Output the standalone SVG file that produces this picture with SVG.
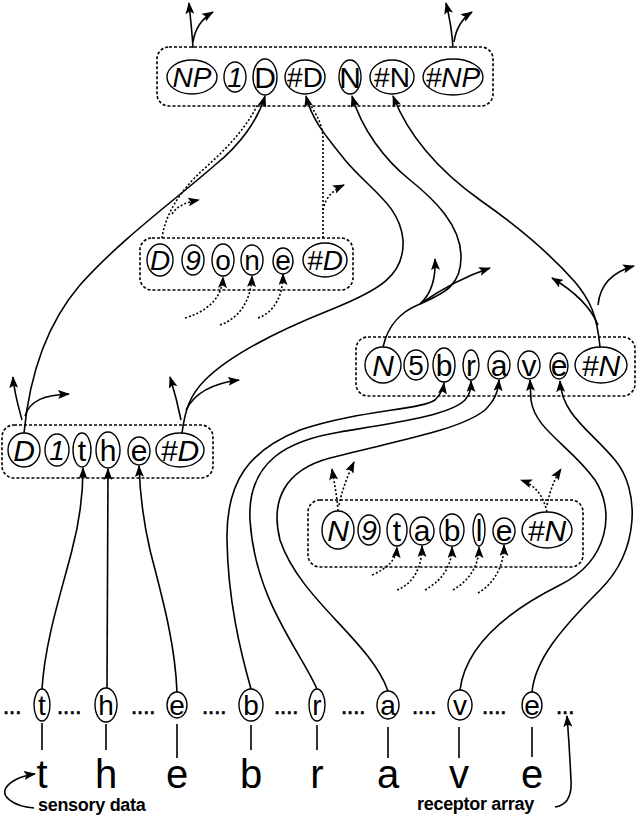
<svg xmlns="http://www.w3.org/2000/svg" width="640" height="817" viewBox="0 0 640 817">
<defs>
<marker id="ah" markerUnits="userSpaceOnUse" markerWidth="12" markerHeight="9" refX="11" refY="4.5" orient="auto">
<path d="M0,0 L12,4.5 L0,9 L2.5,4.5 z" fill="#000"/>
</marker>
<style>
.bx{fill:none;stroke:#000;stroke-width:1.6;stroke-dasharray:3 2}
.el{fill:#fff;stroke:#000;stroke-width:1.4}
.t{font-family:"Liberation Sans",Arial,sans-serif;font-size:30px;text-anchor:middle;fill:#000}
.s{font-size:28px}
.i{font-style:italic}
.c{fill:none;stroke:#000;stroke-width:1.6}
.ca{fill:none;stroke:#000;stroke-width:1.6;marker-end:url(#ah)}
.d{fill:none;stroke:#000;stroke-width:1.6;stroke-dasharray:2 2}
.da{fill:none;stroke:#000;stroke-width:1.6;stroke-dasharray:2 2;marker-end:url(#ah)}
.dots{font-family:"Liberation Sans",Arial,sans-serif;font-size:22px;fill:#000;stroke:#000;stroke-width:0.7}
.big{font-family:"Liberation Sans",Arial,sans-serif;font-size:40px;text-anchor:middle;fill:#000}
.lab{font-family:"Liberation Sans",Arial,sans-serif;font-size:18px;font-weight:bold;fill:#000;letter-spacing:-0.3px}
</style>
</defs>
<rect width="640" height="817" fill="#fff"/>

<g id="connectors">
<path class="ca" d="M193,48 C192,30 190,15 189,3"/>
<path class="ca" d="M193,42 C195,28 203,18 213,12"/>
<path class="ca" d="M453,48 C452,30 449,15 446,3"/>
<path class="ca" d="M454,42 C456,28 463,18 472,12"/>
<path class="ca" d="M24,433 C30,370 50,320 80,285 C120,240 175,200 215,165 C240,145 258,120 265,96"/>
<path class="ca" d="M22,420 C18,405 14,392 13,377"/>
<path class="ca" d="M25,416 C30,400 45,395 69,394"/>
<path class="ca" d="M182,433 C185,410 190,395 205,380 C230,355 280,330 330,310 C380,290 405,275 403,240 C400,205 370,190 345,160 C325,135 312,120 306,96"/>
<path class="ca" d="M181,420 C178,405 174,390 170,377"/>
<path class="ca" d="M186,410 C195,392 215,383 239,380"/>
<path class="ca" d="M383,347 C388,325 400,312 420,304 C445,293 462,285 461,255 C460,225 435,200 410,180 C385,160 362,130 352,96"/>
<path class="ca" d="M420,304 C430,295 436,280 435,259"/>
<path class="ca" d="M420,304 C440,290 460,278 490,268"/>
<path class="ca" d="M600,347 C597,315 590,300 575,282 C560,265 530,235 480,200 C445,175 410,140 393,96"/>
<path class="ca" d="M598,325 C590,305 572,290 552,278"/>
<path class="ca" d="M598,305 C600,285 612,272 634,266"/>
<path class="d" d="M162,238 C165,215 180,190 205,168 C225,150 245,130 258,104"/>
<path class="da" d="M172,214 C178,205 188,202 199,200"/>
<path class="d" d="M323,238 L323,140 C323,120 312,110 307,98"/>
<path class="da" d="M323,210 C325,198 333,190 344,185"/>
<path class="da" d="M185,318 C205,312 222,300 223,277"/>
<path class="da" d="M220,325 C240,318 251,300 252,276"/>
<path class="da" d="M258,318 C275,312 283,295 283,274"/>
<path class="da" d="M338,511 C337,495 334,482 332,469"/>
<path class="da" d="M339,505 C342,490 348,475 354,462"/>
<path class="da" d="M547,512 C543,495 535,485 521,480"/>
<path class="da" d="M547,505 C550,490 555,478 561,469"/>
<path class="da" d="M372,575 C388,568 396,560 397,547"/>
<path class="da" d="M397,590 C415,583 422,565 422,546"/>
<path class="da" d="M425,590 C443,580 452,565 452,547"/>
<path class="da" d="M453,590 C470,580 479,565 479,547"/>
<path class="da" d="M478,593 C495,583 504,565 504,545"/>
<path class="ca" d="M42,689 C45,640 62,590 72,550 C80,520 83,495 83,468"/>
<path class="ca" d="M107,688 L108,469"/>
<path class="ca" d="M177,692 C175,640 160,590 150,550 C143,520 140,495 139,466"/>
<path class="ca" d="M251,689 C240,650 228,600 227,540 C226,480 250,450 300,430 C360,410 420,410 435,400 C440,395 443,390 444,383"/>
<path class="ca" d="M317,689 C300,650 255,600 250,520 C247,460 290,440 340,432 C400,422 450,415 465,400 C470,394 471,390 471,381"/>
<path class="ca" d="M388,691 C370,640 300,600 280,540 C270,500 285,470 330,458 C400,440 460,430 485,410 C495,400 498,392 499,380"/>
<path class="ca" d="M460,690 C465,650 500,615 560,585 C610,560 615,510 595,480 C570,445 535,430 531,400 L530,380"/>
<path class="ca" d="M532,692 C535,660 560,630 600,590 C640,550 640,490 615,460 C590,430 562,415 560,381"/>
<path class="c" d="M42,723 V750 M106,724 V750 M177,724 V758 M251,725 V750 M317,725 V750 M388,727 V758 M459,727 V758 M532,727 V757"/>
<path class="ca" d="M34,808 C10,806 3,795 5,790 C8,782 20,776 35,774"/>
<path class="ca" d="M555,807 C568,805 572,795 571,780 C570,760 569,740 567,716"/>
</g>

<g id="np-box">
<rect class="bx" x="157" y="47" width="336" height="59" rx="12"/>
<ellipse class="el" cx="192" cy="77" rx="25" ry="17"/><text class="t s i" x="192" y="87">NP</text>
<ellipse class="el" cx="235" cy="77" rx="11" ry="15"/><text class="t s i" x="235" y="87">1</text>
<ellipse class="el" cx="265" cy="77" rx="12" ry="18"/><text class="t" x="265" y="88">D</text>
<ellipse class="el" cx="305" cy="77" rx="20" ry="17"/><text class="t s" x="305" y="87">#D</text>
<ellipse class="el" cx="350" cy="77" rx="11" ry="17"/><text class="t" x="350" y="88">N</text>
<ellipse class="el" cx="392" cy="77" rx="22" ry="17"/><text class="t s" x="392" y="87">#N</text>
<ellipse class="el" cx="453" cy="77" rx="30" ry="18"/><text class="t s i" x="453" y="87">#NP</text>
</g>

<g id="done-box">
<rect class="bx" x="140" y="238" width="213" height="52" rx="12"/>
<ellipse class="el" cx="160" cy="260" rx="13" ry="16"/><text class="t s i" x="160" y="270">D</text>
<ellipse class="el" cx="193" cy="260" rx="11" ry="15"/><text class="t s i" x="193" y="270">9</text>
<ellipse class="el" cx="223" cy="260" rx="11" ry="16"/><text class="t s" x="223" y="270">o</text>
<ellipse class="el" cx="252" cy="260" rx="11" ry="15"/><text class="t s" x="252" y="270">n</text>
<ellipse class="el" cx="283" cy="261" rx="10" ry="13"/><text class="t s" x="283" y="270">e</text>
<ellipse class="el" cx="325" cy="260" rx="22" ry="17"/><text class="t s i" x="325" y="270">#D</text>
</g>

<g id="brave-box">
<rect class="bx" x="356" y="337" width="279" height="59" rx="12"/>
<ellipse class="el" cx="383" cy="365" rx="18" ry="18"/><text class="t i" x="383" y="376">N</text>
<ellipse class="el" cx="416" cy="365" rx="12" ry="15"/><text class="t s" x="416" y="375">5</text>
<ellipse class="el" cx="444" cy="365" rx="11" ry="17"/><text class="t" x="444" y="376">b</text>
<ellipse class="el" cx="471" cy="365" rx="8" ry="15"/><text class="t" x="471" y="376">r</text>
<ellipse class="el" cx="499" cy="365" rx="11" ry="14"/><text class="t" x="499" y="376">a</text>
<ellipse class="el" cx="529" cy="365" rx="11" ry="14"/><text class="t" x="529" y="376">v</text>
<ellipse class="el" cx="559" cy="366" rx="9" ry="13"/><text class="t" x="559" y="376">e</text>
<ellipse class="el" cx="601" cy="365" rx="26" ry="18"/><text class="t i" x="601" y="376">#N</text>
</g>

<g id="the-box">
<rect class="bx" x="2" y="425" width="211" height="53" rx="12"/>
<ellipse class="el" cx="24" cy="450" rx="16" ry="17"/><text class="t i" x="24" y="461">D</text>
<ellipse class="el" cx="57" cy="450" rx="12" ry="16"/><text class="t s i" x="57" y="460">1</text>
<ellipse class="el" cx="82" cy="450" rx="9" ry="17"/><text class="t" x="82" y="461">t</text>
<ellipse class="el" cx="108" cy="450" rx="12" ry="18"/><text class="t" x="108" y="461">h</text>
<ellipse class="el" cx="139" cy="451" rx="11" ry="14"/><text class="t" x="139" y="461">e</text>
<ellipse class="el" cx="180" cy="450" rx="24" ry="17"/><text class="t i" x="180" y="461">#D</text>
</g>

<g id="table-box">
<rect class="bx" x="308" y="500" width="275" height="67" rx="12"/>
<ellipse class="el" cx="338" cy="530" rx="16" ry="19"/><text class="t i" x="338" y="541">N</text>
<ellipse class="el" cx="369" cy="530" rx="11" ry="15"/><text class="t s i" x="369" y="540">9</text>
<ellipse class="el" cx="397" cy="530" rx="10" ry="16"/><text class="t" x="397" y="541">t</text>
<ellipse class="el" cx="422" cy="531" rx="12" ry="14"/><text class="t" x="422" y="541">a</text>
<ellipse class="el" cx="452" cy="530" rx="12" ry="16"/><text class="t" x="452" y="541">b</text>
<ellipse class="el" cx="479" cy="530" rx="6" ry="16"/><text class="t" x="479" y="541">l</text>
<ellipse class="el" cx="504" cy="531" rx="11" ry="13"/><text class="t" x="504" y="541">e</text>
<ellipse class="el" cx="547" cy="530" rx="25" ry="18"/><text class="t i" x="547" y="541">#N</text>
</g>

<g id="receptors">
<ellipse class="el" cx="42" cy="705" rx="8" ry="16"/><text class="t s" x="42" y="715">t</text>
<ellipse class="el" cx="106" cy="705" rx="11" ry="17"/><text class="t s" x="106" y="715">h</text>
<ellipse class="el" cx="177" cy="705" rx="10" ry="13"/><text class="t s" x="177" y="715">e</text>
<ellipse class="el" cx="251" cy="705" rx="12" ry="16"/><text class="t s" x="251" y="715">b</text>
<ellipse class="el" cx="317" cy="705" rx="8" ry="16"/><text class="t s" x="317" y="715">r</text>
<ellipse class="el" cx="388" cy="705" rx="11" ry="14"/><text class="t s" x="388" y="715">a</text>
<ellipse class="el" cx="460" cy="705" rx="12" ry="15"/><text class="t s" x="460" y="715">v</text>
<ellipse class="el" cx="532" cy="705" rx="10" ry="13"/><text class="t s" x="532" y="715">e</text>
<g opacity="0.99">
<text class="dots" x="3" y="714">...</text>
<text class="dots" x="57" y="714">....</text>
<text class="dots" x="131" y="714">....</text>
<text class="dots" x="202" y="714">....</text>
<text class="dots" x="274" y="714">....</text>
<text class="dots" x="341" y="714">....</text>
<text class="dots" x="412" y="714">....</text>
<text class="dots" x="482" y="714">....</text>
<text class="dots" x="556" y="714">...</text>
</g>
</g>

<g id="sensory">
<text class="big" x="42" y="788">t</text>
<text class="big" x="106" y="788">h</text>
<text class="big" x="177" y="788">e</text>
<text class="big" x="251" y="788">b</text>
<text class="big" x="317" y="788">r</text>
<text class="big" x="388" y="788">a</text>
<text class="big" x="459" y="788">v</text>
<text class="big" x="532" y="788">e</text>
<text class="lab" x="38" y="811">sensory data</text>
<text class="lab" x="417" y="810">receptor array</text>
</g>
</svg>
